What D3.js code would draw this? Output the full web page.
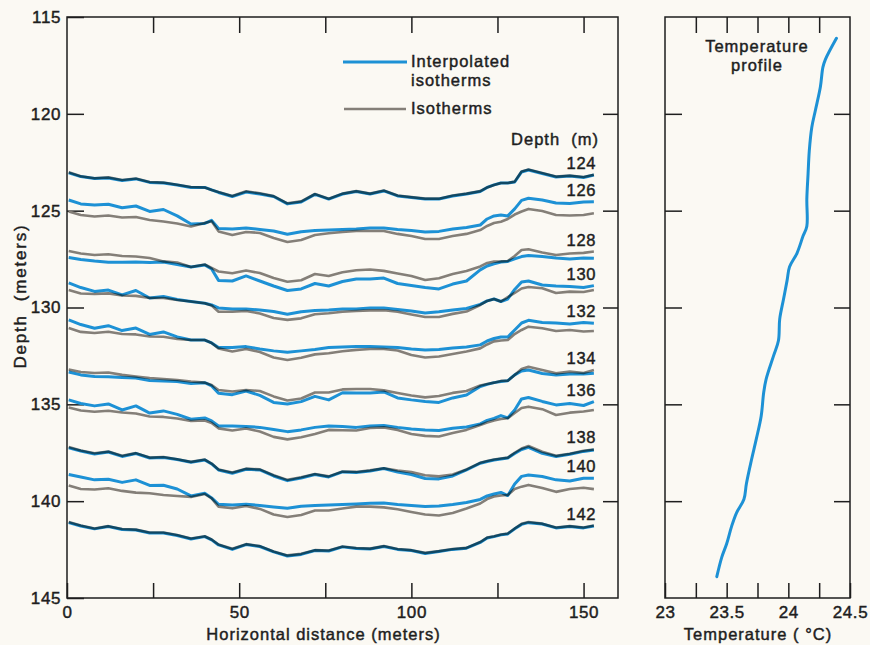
<!DOCTYPE html>
<html><head><meta charset="utf-8">
<script src="https://cdn.jsdelivr.net/npm/d3@7"></script>
<style>html,body{margin:0;padding:0;background:#fbf9f3;} svg{display:block}</style>
</head><body>
<svg id="chart" width="870" height="645"></svg>
<script>
// ---------- DATA ----------
const depthLevels = [124, 126, 128, 130, 132, 134, 136, 138, 140, 142];
const distance = [0.5,4,8,12,16,20,24,28,32,36,40,42,44,48,52,56,60,64,68,72,76,80,84,88,92,96,100,104,108,112,116,120,122,124,126,128,130,132,134,138,142,146,150,153];

const interp124 = [123.05,123.24,123.34,123.31,123.44,123.36,123.54,123.57,123.67,123.80,123.80,123.93,124.06,124.27,124.04,124.14,124.27,124.65,124.55,124.16,124.40,124.14,124.01,124.14,123.98,124.24,124.32,124.40,124.40,124.24,124.14,124.01,123.80,123.67,123.57,123.57,123.52,123.00,122.90,123.08,123.26,123.21,123.29,123.16];
const iso124 = [123.02,123.22,123.33,123.28,123.42,123.34,123.52,123.55,123.66,123.78,123.80,123.93,124.04,124.24,124.00,124.10,124.25,124.62,124.52,124.14,124.38,124.12,123.99,124.12,123.96,124.22,124.30,124.38,124.38,124.22,124.12,123.99,123.80,123.67,123.57,123.57,123.50,122.98,122.88,123.05,123.24,123.19,123.26,123.14];

const interp126 = [124.45,124.65,124.71,124.67,124.85,124.76,125.04,124.94,125.27,125.69,125.66,125.50,125.92,125.95,125.89,125.97,126.05,126.22,126.09,126.02,126.00,125.97,125.95,125.89,125.89,125.97,126.02,126.10,126.07,125.95,125.87,125.74,125.43,125.27,125.22,125.27,124.91,124.47,124.36,124.45,124.60,124.63,124.55,124.54];
const iso126 = [125.04,125.22,125.30,125.25,125.35,125.33,125.48,125.56,125.66,125.82,125.64,125.55,126.07,126.26,126.10,126.15,126.41,126.62,126.51,126.26,126.17,126.10,126.05,126.05,126.05,126.20,126.31,126.46,126.46,126.31,126.20,126.00,125.79,125.64,125.57,125.43,125.20,125.04,124.91,125.02,125.22,125.25,125.22,125.13];

const interp128 = [127.42,127.52,127.60,127.66,127.66,127.65,127.68,127.65,127.78,127.91,127.80,128.01,128.60,128.63,128.37,128.63,128.89,129.12,129.04,128.76,128.89,128.66,128.53,128.53,128.48,128.76,128.86,128.97,129.04,128.79,128.63,128.06,127.86,127.75,127.65,127.62,127.49,127.37,127.32,127.37,127.44,127.49,127.44,127.46];
const iso128 = [127.08,127.21,127.29,127.25,127.34,127.37,127.44,127.62,127.68,127.91,127.78,127.96,128.14,128.23,128.09,128.22,128.48,128.67,128.59,128.27,128.37,128.18,128.08,128.04,128.11,128.24,128.37,128.58,128.49,128.27,128.11,127.88,127.70,127.63,127.62,127.60,127.34,127.03,126.99,127.16,127.29,127.21,127.18,127.11];

const interp130 = [128.73,128.97,129.17,129.10,129.35,129.12,129.51,129.43,129.59,129.69,129.78,129.87,130.02,130.08,130.08,130.13,130.21,130.35,130.22,130.15,130.13,130.08,130.08,130.02,130.02,130.10,130.18,130.28,130.22,130.13,130.05,129.84,129.66,129.56,129.69,129.56,129.07,128.68,128.63,128.84,128.89,128.91,128.97,128.87];
const iso130 = [129.10,129.28,129.30,129.27,129.38,129.40,129.51,129.51,129.61,129.69,129.78,129.90,130.22,130.22,130.18,130.31,130.54,130.64,130.56,130.35,130.30,130.22,130.18,130.15,130.14,130.22,130.36,130.49,130.49,130.33,130.21,129.87,129.66,129.56,129.69,129.46,129.25,129.02,128.94,129.01,129.25,129.18,129.20,129.10];

const interp132 = [130.64,130.88,131.07,130.94,131.19,131.06,131.39,131.26,131.52,131.68,131.68,131.83,132.07,132.07,132.02,132.14,132.24,132.31,132.24,132.17,132.07,132.04,132.02,132.02,132.04,132.06,132.14,132.19,132.17,132.09,132.04,131.93,131.73,131.60,131.52,131.52,131.16,130.80,130.66,130.77,130.80,130.85,130.78,130.81];
const iso132 = [131.06,131.26,131.32,131.25,131.37,131.39,131.50,131.51,131.63,131.68,131.68,131.83,132.11,132.27,132.14,132.30,132.58,132.71,132.59,132.42,132.36,132.26,132.19,132.14,132.14,132.22,132.45,132.58,132.53,132.40,132.27,132.11,131.91,131.75,131.70,131.68,131.37,131.16,130.99,131.07,131.21,131.16,131.24,131.21];

const interp134 = [133.33,133.48,133.56,133.57,133.61,133.64,133.77,133.79,133.82,133.92,133.88,134.05,134.43,134.50,134.31,134.54,134.90,134.98,134.86,134.59,134.77,134.40,134.41,134.41,134.36,134.67,134.77,134.85,134.90,134.67,134.52,134.08,133.97,133.88,133.82,133.78,133.48,133.28,133.23,133.41,133.48,133.43,133.43,133.40];
const iso134 = [133.20,133.33,133.38,133.36,133.48,133.56,133.64,133.69,133.74,133.82,133.88,134.00,134.26,134.34,134.26,134.31,134.59,134.80,134.70,134.39,134.39,134.23,134.21,134.21,134.28,134.41,134.54,134.64,134.57,134.41,134.31,134.03,133.95,133.88,133.79,133.78,133.48,133.17,133.06,133.23,133.40,133.31,133.38,133.23];

const interp136 = [134.77,134.96,135.08,134.98,135.29,135.08,135.45,135.34,135.52,135.77,135.70,135.86,136.12,136.12,136.14,136.19,136.30,136.41,136.32,136.19,136.12,136.14,136.19,136.12,136.09,136.19,136.27,136.32,136.35,136.24,136.17,136.01,135.83,135.73,135.58,135.70,135.29,134.72,134.65,134.85,135.03,134.96,135.06,134.86];
const iso136 = [135.16,135.32,135.38,135.33,135.42,135.47,135.63,135.65,135.73,135.86,135.83,135.96,136.24,136.35,136.25,136.40,136.68,136.81,136.70,136.53,136.32,136.34,136.35,136.22,136.19,136.32,136.53,136.63,136.66,136.48,136.32,136.07,135.94,135.83,135.76,135.72,135.45,135.19,135.12,135.25,135.55,135.43,135.37,135.29];

const interp138 = [137.25,137.41,137.56,137.46,137.69,137.54,137.77,137.74,137.85,137.99,137.87,138.08,138.39,138.56,138.35,138.39,138.70,138.94,138.80,138.62,138.75,138.49,138.52,138.44,138.31,138.49,138.62,138.83,138.85,138.70,138.39,138.04,137.95,137.87,137.82,137.77,137.54,137.33,137.22,137.53,137.69,137.58,137.43,137.36];
const iso138 = [137.20,137.38,137.53,137.44,137.66,137.52,137.75,137.72,137.84,137.97,137.85,138.06,138.36,138.52,138.32,138.36,138.66,138.90,138.77,138.60,138.72,138.47,138.49,138.41,138.30,138.42,138.50,138.66,138.72,138.62,138.36,138.02,137.93,137.85,137.80,137.75,137.50,137.28,137.15,137.45,137.66,137.55,137.40,137.33];

const interp140 = [138.62,138.75,138.90,138.87,139.03,138.90,139.19,139.18,139.37,139.73,139.59,139.83,140.16,140.20,140.16,140.22,140.30,140.37,140.26,140.22,140.20,140.17,140.14,140.11,140.09,140.17,140.22,140.28,140.25,140.17,140.07,139.91,139.73,139.63,139.55,139.71,139.11,138.72,138.65,138.73,138.90,138.96,138.82,138.82];
const iso140 = [139.19,139.37,139.40,139.33,139.47,139.56,139.59,139.68,139.73,139.78,139.63,139.86,140.28,140.37,140.25,140.40,140.69,140.82,140.71,140.48,140.48,140.38,140.28,140.28,140.32,140.42,140.56,140.69,140.74,140.61,140.38,140.12,139.89,139.76,139.71,139.68,139.37,139.25,139.16,139.32,139.52,139.37,139.31,139.38];

const interp142 = [141.11,141.28,141.43,141.31,141.46,141.49,141.64,141.64,141.77,141.95,141.83,142.00,142.26,142.49,142.24,142.34,142.62,142.83,142.75,142.55,142.57,142.36,142.44,142.47,142.34,142.49,142.55,142.70,142.60,142.49,142.43,142.13,141.90,141.83,141.74,141.69,141.43,141.20,141.11,141.18,141.38,141.31,141.38,141.28];
const iso142 = [141.08,141.26,141.41,141.29,141.44,141.47,141.62,141.62,141.75,141.93,141.81,141.98,142.24,142.46,142.22,142.32,142.60,142.80,142.72,142.53,142.55,142.34,142.42,142.45,142.32,142.47,142.53,142.67,142.58,142.47,142.41,142.11,141.88,141.81,141.72,141.67,141.41,141.17,141.08,141.16,141.36,141.29,141.36,141.26];

const tempDepth = [116.1,117.2,117.6,118.6,119.8,120.7,121.9,123.1,124.4,125.8,126.3,127.2,127.9,128.6,129.6,130.6,131.7,132.5,133.7,134.4,135.6,136.8,137.9,139.1,139.9,140.6,141.3,142.2,142.9,143.9];
const tempC = [24.39,24.30,24.28,24.26,24.22,24.19,24.17,24.16,24.15,24.15,24.12,24.07,24.01,23.99,23.96,23.93,23.92,23.88,23.82,23.80,23.78,23.74,23.70,23.66,23.64,23.58,23.54,23.50,23.46,23.42];

const distanceTicks = [0, 25, 50, 75, 100, 125, 150];
const distanceLabels = [0, 50, 100, 150];
const depthTicks = [115, 120, 125, 130, 135, 140, 145];
const depthInnerTicks = [120, 125, 130, 135, 140];
const tempTicks = [23, 23.25, 23.5, 23.75, 24, 24.25, 24.5];
const tempLabels = [23, 23.5, 24, 24.5];

const interpSeries = [interp124, interp126, interp128, interp130, interp132, interp134, interp136, interp138, interp140, interp142];
const isoSeries = [iso124, iso126, iso128, iso130, iso132, iso134, iso136, iso138, iso140, iso142];

// ---------- STYLE ----------
const BLUE = "#1d91d5", GRAY = "#847f78", INK = "#1e1e1e";
const FONT = "'Liberation Sans', Arial, Helvetica, sans-serif";

const svg = d3.select("#chart");
svg.append("rect").attr("width", 870).attr("height", 645).attr("fill", "#fbf9f3");

const x = d3.scaleLinear([0, 160], [67, 618]);
const y = d3.scaleLinear([115, 145], [17, 598]);
const xt = d3.scaleLinear([23, 24.5], [665, 850]);

function styleText(sel, size, spacing) {
  sel.attr("font-family", FONT).attr("font-size", size).attr("fill", INK)
     .attr("stroke", INK).attr("stroke-width", 0.45).attr("letter-spacing", spacing);
}
function cleanAxis(g) {
  g.select(".domain").remove();
  g.selectAll(".tick line").attr("stroke", INK).attr("stroke-width", 1.5);
  g.selectAll(".tick text").call(styleText, 17, 0.6);
}

// ---------- LEFT PANEL ----------
const left = svg.append("g");
left.append("g").attr("transform", "translate(0,598)")
  .call(d3.axisBottom(x).tickValues(distanceTicks).tickSizeInner(-15).tickSizeOuter(0).tickPadding(8)
        .tickFormat(d => distanceLabels.includes(d) ? d : ""))
  .call(cleanAxis);
left.append("g").attr("transform", "translate(0,17)")
  .call(d3.axisTop(x).tickValues(distanceTicks.slice(1)).tickSizeInner(-16).tickSizeOuter(0).tickFormat(""))
  .call(cleanAxis);
left.append("g").attr("transform", "translate(67,0)")
  .call(d3.axisLeft(y).tickValues(depthTicks).tickSizeInner(-17).tickSizeOuter(0).tickPadding(6))
  .call(cleanAxis);
left.append("g").attr("transform", "translate(618,0)")
  .call(d3.axisRight(y).tickValues(depthInnerTicks).tickSizeInner(-15).tickSizeOuter(0).tickFormat(""))
  .call(cleanAxis);

// isotherm lines
const lineGen = d3.line().x((d, i) => x(distance[i])).y(d => y(d)).curve(d3.curveLinear);
const lines = left.append("g").style("isolation", "isolate");
isoSeries.forEach(s => {
  lines.append("path").attr("d", lineGen(s)).attr("fill", "none")
    .attr("stroke", GRAY).attr("stroke-width", 2.6).attr("stroke-linejoin", "round");
});
interpSeries.forEach(s => {
  lines.append("path").attr("d", lineGen(s)).attr("fill", "none")
    .attr("stroke", BLUE).attr("stroke-width", 3).attr("stroke-linejoin", "round")
    .style("mix-blend-mode", "multiply");
});

// depth labels
depthLevels.forEach((lv, i) => {
  const a = interpSeries[i], b = isoSeries[i];
  const top = Math.min(a[a.length - 1], b[b.length - 1]);
  left.append("text").attr("x", x(153.6)).attr("y", y(top) - 6)
    .attr("text-anchor", "end").text(lv).call(styleText, 16.5, 0.6);
});
left.append("text").attr("x", 599).attr("y", 145).attr("text-anchor", "end")
  .attr("xml:space", "preserve").text("Depth  (m)").call(styleText, 16.5, 1);

// legend
const lg = left.append("g");
lg.append("line").attr("x1", 343).attr("x2", 407).attr("y1", 62).attr("y2", 62)
  .attr("stroke", BLUE).attr("stroke-width", 3.2);
lg.append("text").attr("x", 411).attr("y", 67).text("Interpolated").call(styleText, 16.5, 1);
lg.append("text").attr("x", 411).attr("y", 86).text("isotherms").call(styleText, 16.5, 1);
lg.append("line").attr("x1", 344).attr("x2", 406).attr("y1", 109).attr("y2", 109)
  .attr("stroke", GRAY).attr("stroke-width", 2.6);
lg.append("text").attr("x", 411).attr("y", 114).text("Isotherms").call(styleText, 16.5, 1);

// axis titles
svg.append("text").attr("x", (208 + 439) / 2).attr("y", 640).attr("text-anchor", "middle")
  .text("Horizontal distance (meters)").call(styleText, 16.5, 1);
svg.append("text").attr("transform", "translate(26,296) rotate(-90)").attr("text-anchor", "middle")
  .attr("xml:space", "preserve").text("Depth  (meters)").call(styleText, 17, 1.8);

// frame
left.append("rect").attr("x", 67).attr("y", 17).attr("width", 551).attr("height", 581)
  .attr("fill", "none").attr("stroke", INK).attr("stroke-width", 1.5);

// ---------- RIGHT PANEL ----------
const right = svg.append("g");
right.append("g").attr("transform", "translate(0,598)")
  .call(d3.axisBottom(xt).tickValues(tempTicks).tickSizeInner(-15).tickSizeOuter(0).tickPadding(8)
        .tickFormat(d => tempLabels.includes(d) ? d : ""))
  .call(cleanAxis);
right.append("g").attr("transform", "translate(0,17)")
  .call(d3.axisTop(xt).tickValues(tempTicks.slice(1, -1)).tickSizeInner(-16).tickSizeOuter(0).tickFormat(""))
  .call(cleanAxis);
right.append("g").attr("transform", "translate(665,0)")
  .call(d3.axisLeft(y).tickValues(depthInnerTicks).tickSizeInner(-17).tickSizeOuter(0).tickFormat(""))
  .call(cleanAxis);
right.append("g").attr("transform", "translate(850,0)")
  .call(d3.axisRight(y).tickValues(depthInnerTicks).tickSizeInner(-16).tickSizeOuter(0).tickFormat(""))
  .call(cleanAxis);

const tLine = d3.line().x((d, i) => xt(tempC[i])).y(d => y(d)).curve(d3.curveCatmullRom);
right.append("path").attr("d", tLine(tempDepth)).attr("fill", "none")
  .attr("stroke", BLUE).attr("stroke-width", 3).attr("stroke-linecap", "round");

right.append("text").attr("x", 757).attr("y", 52).attr("text-anchor", "middle")
  .text("Temperature").call(styleText, 16.5, 1);
right.append("text").attr("x", 757).attr("y", 71).attr("text-anchor", "middle")
  .text("profile").call(styleText, 16.5, 1);
right.append("text").attr("x", 758).attr("y", 640).attr("text-anchor", "middle")
  .attr("xml:space", "preserve").text("Temperature ( °C)").call(styleText, 16.5, 1);

right.append("rect").attr("x", 665).attr("y", 17).attr("width", 185).attr("height", 581)
  .attr("fill", "none").attr("stroke", INK).attr("stroke-width", 1.5);
</script>
</body></html>
